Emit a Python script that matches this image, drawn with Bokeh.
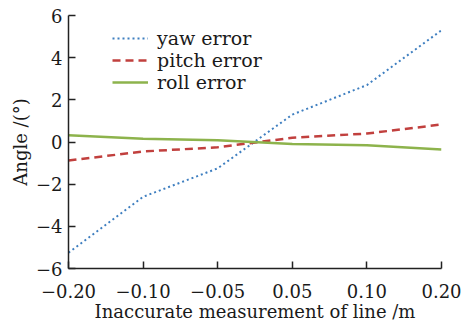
from bokeh.plotting import figure
from bokeh.models import FixedTicker, Legend, LegendItem, Range1d
from bokeh.embed import file_html
from bokeh.resources import INLINE

x_labels = ["−0.20", "−0.10", "−0.05", "0.05", "0.10", "0.20"]
yaw = [-5.25, -2.6, -1.25, 1.3, 2.7, 5.3]
pitch = [-0.88, -0.45, -0.25, 0.2, 0.4, 0.83]
roll = [0.32, 0.15, 0.08, -0.1, -0.15, -0.35]
y_ticks = [-6, -4, -2, 0, 2, 4, 6]

xs = list(range(len(x_labels)))
FONT = "DejaVu Serif"

p = figure(width=476, height=324, output_backend="svg", toolbar_location=None,
           x_range=Range1d(0, len(x_labels) - 1), y_range=Range1d(-6, 6),
           min_border_left=68, min_border_right=35, min_border_top=15, min_border_bottom=55)
p.outline_line_color = None
p.grid.visible = False
p.background_fill_color = "white"

r1 = p.line(xs, yaw, line_color="#3f7fc0", line_width=2, line_dash="2 3")
r2 = p.line(xs, pitch, line_color="#c1403e", line_width=2.5, line_dash="8 5")
r3 = p.line(xs, roll, line_color="#8db34c", line_width=2.5)

for ax in (p.xaxis[0], p.yaxis[0]):
    ax.axis_line_color = "#222222"
    ax.axis_line_width = 1.5
    ax.major_tick_line_color = "#222222"
    ax.major_tick_line_width = 1.5
    ax.major_tick_in = 7
    ax.major_tick_out = 0
    ax.minor_tick_line_color = None
    ax.major_label_text_font = FONT
    ax.major_label_text_font_size = "18px"
    ax.major_label_text_color = "#1a1a1a"
    ax.axis_label_text_font = FONT
    ax.axis_label_text_font_size = "18px"
    ax.axis_label_text_font_style = "normal"
    ax.axis_label_text_color = "#1a1a1a"

p.xaxis.ticker = FixedTicker(ticks=xs)
p.xaxis.major_label_overrides = {i: l for i, l in enumerate(x_labels)}
p.xaxis.axis_label = "Inaccurate measurement of line /m"
p.xaxis.major_label_standoff = 15
p.xaxis.axis_label_standoff = 0

p.yaxis.ticker = FixedTicker(ticks=y_ticks)
p.yaxis.major_label_overrides = {t: (str(t).replace("-", "−")) for t in y_ticks}
p.yaxis.axis_label = "Angle /(°)"
p.yaxis.major_label_standoff = 6
p.yaxis.axis_label_standoff = 2

legend = Legend(items=[LegendItem(label="yaw error", renderers=[r1]),
                       LegendItem(label="pitch error", renderers=[r2]),
                       LegendItem(label="roll error", renderers=[r3])],
                location=(44, 175), padding=0, margin=0, spacing=0,
                glyph_width=36, glyph_height=20, label_height=20, label_standoff=9,
                border_line_color=None, background_fill_alpha=0,
                label_text_font=FONT, label_text_font_size="19px", label_text_color="#1a1a1a")
p.add_layout(legend, "center")

open("out.html", "w").write(file_html(p, INLINE))
